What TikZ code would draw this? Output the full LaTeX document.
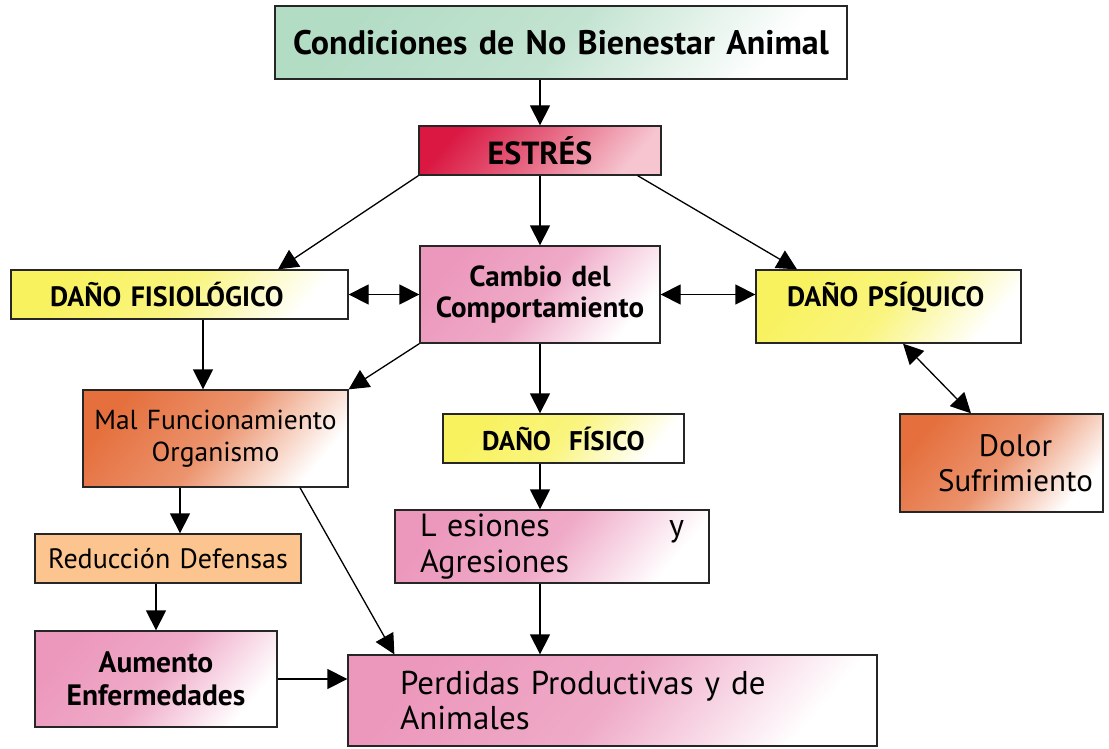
\documentclass[tikz,border=0pt]{standalone}
\usepackage{fontspec}
\setmainfont{PT Sans}
\usetikzlibrary{arrows.meta}

\definecolor{cgreen}{HTML}{B3DCC5}
\definecolor{cred}{HTML}{DA1842}
\definecolor{cyellow}{HTML}{F8F25E}
\definecolor{cpink}{HTML}{EC98BC}
\definecolor{corange}{HTML}{E5703E}
\definecolor{cpeach}{HTML}{FCC48E}

\tikzset{
  box/.style={draw=black!85, line width=1.3pt, inner sep=0pt, align=center, font=\fontsize{27}{33}\selectfont},
  greenbox/.style={box, top color=cgreen, bottom color=white, middle color=cgreen!80!white, shading angle=50},
  redbox/.style={box, top color=cred, bottom color=white!75!cred, middle color=cred!65!white, shading angle=50},
  yellowbox/.style={box, top color=cyellow, bottom color=white, middle color=cyellow!80!white, shading angle=50},
  pinkbox/.style={box, top color=cpink, bottom color=white, middle color=cpink!82!white, shading angle=50},
  orangebox/.style={box, top color=corange, bottom color=white, middle color=corange!75!white, shading angle=50},
  peachbox/.style={box, fill=cpeach},
  >={Triangle[length=20pt,width=20pt]}
}

\begin{document}
\begin{tikzpicture}[x=1pt, y=-1pt, line width=1.3pt]
\useasboundingbox (0,0) rectangle (1109,749);
\node[greenbox, minimum width=572pt, minimum height=73pt, text width=572pt, font=\fontsize{34}{40}\selectfont\bfseries] (cond) at (561,42.5) {Condiciones de No Bienestar Animal};
\node[redbox, minimum width=242pt, minimum height=49pt, text width=242pt, font=\fontsize{32}{38}\selectfont\bfseries] (estres) at (540,150.5) {ESTRÉS};
\node[yellowbox, minimum height=49pt, text width=259pt, inner xsep=39pt, align=left, font=\fontsize{28}{33}\selectfont\bfseries] (fisio) at (179.5,294.5) {DAÑO FISIOLÓGICO};
\node[pinkbox, minimum height=97pt, text width=240pt, font=\fontsize{29}{31}\selectfont\bfseries] (cambio) at (540,294.5) {Cambio del\\Comportamiento};
\node[yellowbox, minimum height=73pt, text width=203pt, inner xsep=31pt, align=left, text height=15pt, text depth=15pt, font=\fontsize{28}{33}\selectfont\bfseries] (psiq) at (888.5,306.5) {DAÑO PSÍQUICO};
\node[orangebox, minimum height=97pt, text width=265pt, font=\fontsize{27.5}{32}\selectfont] (mal) at (215.5,438.5) {Mal Funcionamiento\\Organismo};
\node[yellowbox, minimum height=49pt, text width=241pt, font=\fontsize{27}{33}\selectfont\bfseries] (fisico) at (563.5,438.5) {DAÑO~~FÍSICO};
\node[pinkbox, minimum height=73pt, text width=264pt, inner xsep=25pt, align=left, font=\fontsize{32}{36}\selectfont] (lesiones) at (552,546.5) {L esiones\hfill y\\Agresiones};
\node[peachbox, minimum height=49pt, text width=266pt, font=\fontsize{28}{33}\selectfont] (reduccion) at (168,558.5) {Reducción Defensas};
\node[pinkbox, minimum height=96pt, text width=242pt, font=\fontsize{29.5}{33}\selectfont\bfseries] (aumento) at (156,679) {Aumento\\Enfermedades};
\node[pinkbox, minimum height=91pt, text width=425pt, inner xsep=52pt, align=left, font=\fontsize{33}{35}\selectfont] (perdidas) at (612.5,700.5) {Perdidas Productivas y de\\Animales};
\node[orangebox, minimum height=98pt, text width=203pt, font=\fontsize{31}{35}\selectfont] (dolor) at (1001.5,463) {\hspace*{28pt}Dolor\\\hspace*{28pt}Sufrimiento};
\draw[->] (estres.north |- cond.south) -- (estres.north);
\draw[->] (estres.south west) -- ([xshift=98.5pt]fisio.north);
\draw[->] (estres.south) -- (cambio.north);
\draw[->] ([xshift=-24pt]estres.south east) -- ([xshift=-91.5pt]psiq.north);
\draw[<->] (fisio.east) -- (cambio.west);
\draw[<->] (cambio.east) -- (cambio.east -| psiq.west);
\draw[<->] ([xshift=14.5pt]psiq.south) -- ([xshift=-30.5pt]dolor.north);
\draw[->] ([xshift=23.5pt]fisio.south) -- ([xshift=-12.5pt]mal.north);
\draw[->] (cambio.south west) -- (mal.north east);
\draw[->] (cambio.south) -- (cambio.south |- fisico.north);
\draw[->] (fisico.south -| cambio.south) -- (lesiones.north -| cambio.south);
\draw[->] (lesiones.south -| cambio.south) -- (perdidas.north -| cambio.south);
\draw[->] ([xshift=84.5pt]mal.south) -- ([xshift=47pt]perdidas.north west);
\draw[->] ([xshift=-35.5pt]mal.south) -- ([xshift=12pt]reduccion.north);
\draw[->] (aumento.north |- reduccion.south) -- (aumento.north);
\draw[->] (aumento.east) -- (aumento.east -| perdidas.west);
\end{tikzpicture}
\end{document}
